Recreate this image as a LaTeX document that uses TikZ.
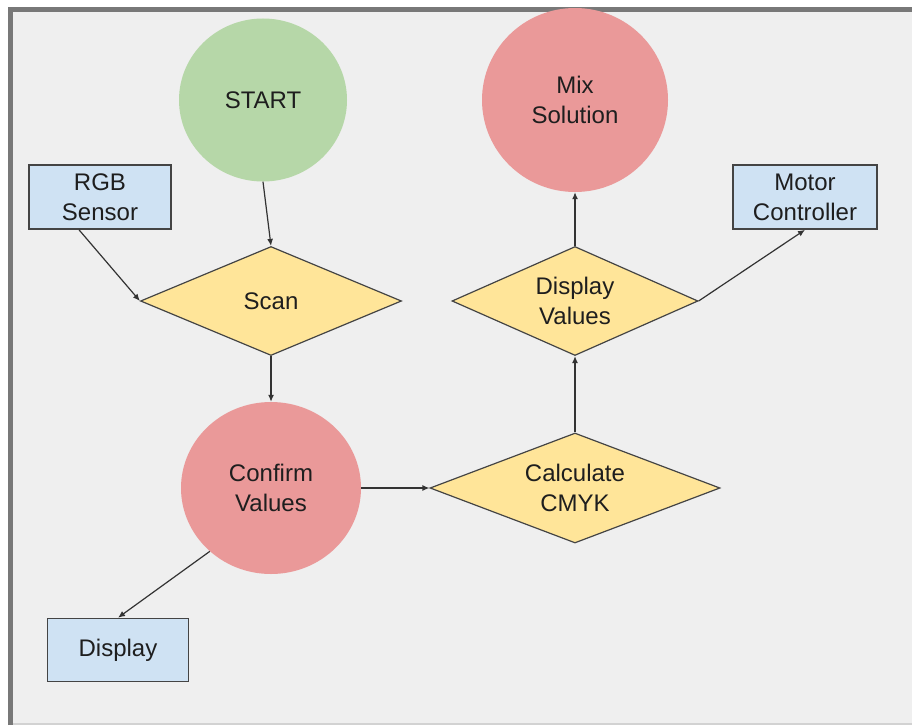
\documentclass[tikz,border=0pt]{standalone}
\usepackage{fontspec}
\setmainfont{Liberation Sans}
\usetikzlibrary{shapes.geometric,arrows.meta}
\definecolor{bg}{HTML}{EFEFEF}
\definecolor{framegray}{HTML}{787878}
\definecolor{bottomgray}{HTML}{D2D2D2}
\definecolor{cgreen}{HTML}{B6D7A8}
\definecolor{cred}{HTML}{EA9999}
\definecolor{cyellow}{HTML}{FFE599}
\definecolor{cblue}{HTML}{CFE2F3}
\definecolor{edge}{HTML}{444444}
\definecolor{txt}{HTML}{1E1E1E}
\definecolor{conn}{HTML}{333333}
\begin{document}
\begin{tikzpicture}[x=1pt,y=-1pt,
  every node/.style={font=\fontsize{24}{30}\selectfont, text=txt, align=center, inner sep=0pt},
  roundnode/.style={ellipse, fill=#1, draw=none},
  boxnode/.style={rectangle, fill=cblue, draw=edge, line width=1.6pt},
  decision/.style={diamond, fill=cyellow, draw=edge, line width=1.2pt, label={center:#1}},
  conn/.style={draw=conn, line width=1.2pt, -{Latex[length=7pt,width=6pt]}}
]
\useasboundingbox (0,0) rectangle (912,725);
\fill[white] (0,0) rectangle (912,725);
\fill[bg] (10,10) rectangle (912,723);
\draw[bottomgray, line width=2pt] (10,724) -- (912,724);
\draw[framegray, line width=5pt] (10,725) -- (10,10) -- (912,10);

\node[roundnode=cgreen, minimum width=168pt, minimum height=163pt] (start) at (263,100) {START};
\node[roundnode=cred, minimum width=186pt, minimum height=184pt] (mix) at (575,100) {Mix\\Solution};
\node[roundnode=cred, minimum width=180pt, minimum height=172pt] (confirm) at (271,488) {Confirm\\Values};

\node[boxnode, minimum width=142pt, minimum height=64pt] (rgb) at (100,197) {RGB\\Sensor};
\node[boxnode, minimum width=144pt, minimum height=64pt] (motor) at (805,197) {Motor\\Controller};
\node[boxnode, minimum width=141pt, minimum height=63pt] (disp) at (118,650) {Display};

\node[decision={Scan}, minimum width=261pt, minimum height=109pt] (scan) at (271,301) {};
\node[decision={Display\\Values}, minimum width=246pt, minimum height=109pt] (dval) at (575,301) {};
\node[decision={Calculate\\CMYK}, minimum width=290pt, minimum height=110pt] (calc) at (575,488) {};

\draw[conn] (start.south) -- (scan.north);
\draw[conn] ([xshift=-21pt]rgb.south) -- (scan.west);
\draw[conn] (scan.south) -- (confirm.north);
\draw[conn] (confirm.east) -- (calc.west);
\draw[conn] (calc.north) -- (dval.south);
\draw[conn] (dval.north) -- (mix.south);
\draw[conn] (dval.east) -- (motor.south);
\draw[conn] (confirm.226) -- (disp.north);
\end{tikzpicture}
\end{document}
